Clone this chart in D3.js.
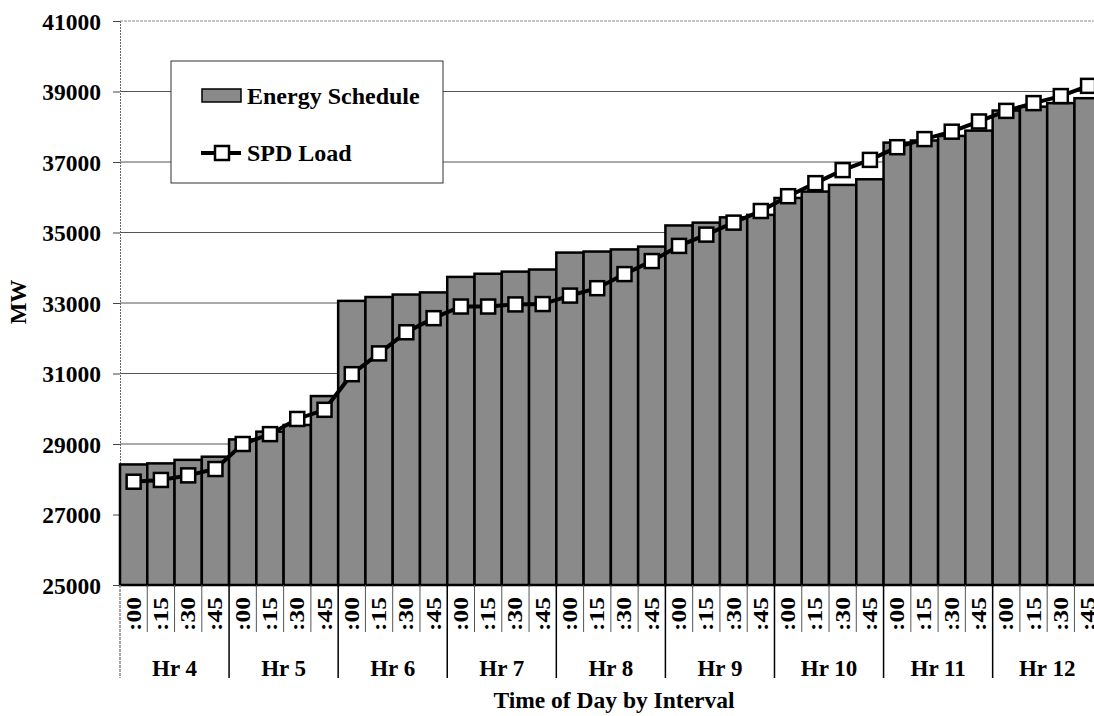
<!DOCTYPE html>
<html>
<head>
<meta charset="utf-8">
<script src="https://cdn.jsdelivr.net/npm/d3@7/dist/d3.min.js"></script>
<style>
    body { margin: 0; background: #fff; }
    text { font-family: "Liberation Serif", "Times New Roman", serif; font-weight: bold; fill: #000; }
</style>
</head>
<body>
<div id="mainContainer"></div>
<script>
'use strict';

var hours = ['Hr 4', 'Hr 5', 'Hr 6', 'Hr 7', 'Hr 8', 'Hr 9', 'Hr 10', 'Hr 11', 'Hr 12'];
var intervals = [':00', ':15', ':30', ':45'];

var energySchedule = [
    28420, 28450, 28550, 28640,
    29130, 29350, 29540, 30360,
    33060, 33170, 33240, 33300,
    33740, 33830, 33890, 33950,
    34430, 34460, 34520, 34600,
    35200, 35280, 35430, 35500,
    35980, 36160, 36350, 36510,
    37550, 37610, 37740, 37890,
    38460, 38570, 38670, 38810
];

var spdLoad = [
    27930, 27980, 28110, 28290,
    29000, 29280, 29710, 29970,
    30980, 31570, 32170, 32570,
    32900, 32900, 32960, 32970,
    33210, 33420, 33820, 34190,
    34620, 34940, 35280, 35610,
    36030, 36400, 36770, 37060,
    37420, 37650, 37860, 38150,
    38450, 38670, 38870, 39160
];

var yTicks = [25000, 27000, 29000, 31000, 33000, 35000, 37000, 39000, 41000];

var svgWidth = 1094,
    svgHeight = 716,
    plotLeft = 120,
    plotTop = 21,
    plotBottom = 585,
    bandWidth = 27.27,
    barFill = '#8a8a8a';

var svg = d3.select('#mainContainer')
    .append('svg')
    .attr('width', svgWidth)
    .attr('height', svgHeight);

// one slot per interval, hour by hour
var slots = [];
hours.forEach(function (h, hi) {
    intervals.forEach(function (m, mi) {
        slots.push({ hour: h, minute: m, i: hi * intervals.length + mi });
    });
});

var x = d3.scaleBand()
    .domain(slots.map(function (d) { return d.i; }))
    .range([plotLeft, plotLeft + bandWidth * slots.length])
    .padding(0);

var y = d3.scaleLinear()
    .domain([25000, 41000])
    .range([plotBottom, plotTop]);

//gridlines
svg.append('g')
    .selectAll('line')
    .data(yTicks.slice(1))
    .enter()
    .append('line')
    .attr('x1', plotLeft)
    .attr('x2', svgWidth)
    .attr('y1', function (d) { return y(d); })
    .attr('y2', function (d) { return y(d); })
    .attr('stroke', function (d) { return d === 41000 ? '#888' : '#555'; })
    .attr('stroke-dasharray', function (d) { return d === 41000 ? '3,1' : null; })
    .attr('stroke-width', 1);

//y axis
var yAxis = svg.append('g')
    .attr('transform', 'translate(' + plotLeft + ',0)')
    .call(d3.axisLeft(y).tickValues(yTicks).tickSize(7).tickPadding(12).tickFormat(d3.format('d')));
yAxis.select('.domain').attr('stroke', '#666').attr('stroke-dasharray', '2,1');
yAxis.selectAll('.tick line').attr('stroke', '#444');
yAxis.selectAll('.tick text')
    .style('font-size', '23.5px')
    .attr('dy', '0.35em');

//bars
svg.append('g')
    .selectAll('rect')
    .data(slots)
    .enter()
    .append('rect')
    .attr('x', function (d) { return x(d.i); })
    .attr('y', function (d) { return y(energySchedule[d.i]); })
    .attr('width', x.bandwidth())
    .attr('height', function (d) { return plotBottom - y(energySchedule[d.i]); })
    .attr('fill', barFill)
    .attr('stroke', '#000')
    .attr('stroke-width', 2.5);

//load line
var line = d3.line()
    .x(function (d) { return x(d.i) + x.bandwidth() / 2; })
    .y(function (d) { return y(spdLoad[d.i]); });

svg.append('path')
    .datum(slots)
    .attr('d', line)
    .attr('fill', 'none')
    .attr('stroke', '#000')
    .attr('stroke-width', 4);

svg.append('g')
    .selectAll('rect')
    .data(slots)
    .enter()
    .append('rect')
    .attr('x', function (d) { return x(d.i) + x.bandwidth() / 2 - 7; })
    .attr('y', function (d) { return y(spdLoad[d.i]) - 7; })
    .attr('width', 14)
    .attr('height', 14)
    .attr('fill', '#fff')
    .attr('stroke', '#000')
    .attr('stroke-width', 2.5);

//category axis
svg.append('line')
    .attr('x1', plotLeft)
    .attr('x2', svgWidth)
    .attr('y1', plotBottom)
    .attr('y2', plotBottom)
    .attr('stroke', '#000')
    .attr('stroke-width', 2);

var cats = svg.append('g');

cats.selectAll('line.minor')
    .data(slots)
    .enter()
    .append('line')
    .attr('class', 'minor')
    .attr('x1', function (d) { return x(d.i); })
    .attr('x2', function (d) { return x(d.i); })
    .attr('y1', plotBottom)
    .attr('y2', function (d) { return d.minute === ':00' ? 678 : 632; })
    .attr('stroke', function (d) { return d.i === 0 ? '#888' : (d.minute === ':00' ? '#000' : '#555'); })
    .attr('stroke-dasharray', function (d) { return d.i === 0 ? '3,1' : null; })
    .attr('stroke-width', function (d) { return d.minute === ':00' ? 1.5 : 1; });

// the last ':45' runs past the right edge, as in the source
cats.selectAll('text.minute')
    .data(slots)
    .enter()
    .append('text')
    .attr('class', 'minute')
    .attr('transform', function (d) {
        return 'translate(' + (x(d.i) + x.bandwidth() / 2 + 7) + ',614) rotate(-90)';
    })
    .attr('text-anchor', 'middle')
    .attr('textLength', 34)
    .attr('lengthAdjust', 'spacingAndGlyphs')
    .style('font-size', '20px')
    .text(function (d) { return d.minute; });

cats.selectAll('text.hour')
    .data(hours)
    .enter()
    .append('text')
    .attr('class', 'hour')
    .attr('x', function (d, i) { return x(i * 4) + x.bandwidth() * 2; })
    .attr('y', 676)
    .attr('text-anchor', 'middle')
    .style('font-size', '23px')
    .text(function (d) { return d; });

//axis titles
svg.append('text')
    .attr('x', 614)
    .attr('y', 708)
    .attr('text-anchor', 'middle')
    .style('font-size', '23.5px')
    .text('Time of Day by Interval');

svg.append('text')
    .attr('transform', 'translate(26,302) rotate(-90)')
    .attr('text-anchor', 'middle')
    .style('font-size', '23px')
    .text('MW');

//legend
var legend = svg.append('g');

legend.append('rect')
    .attr('x', 171)
    .attr('y', 61)
    .attr('width', 272)
    .attr('height', 122)
    .attr('fill', '#fff')
    .attr('stroke', '#333')
    .attr('stroke-width', 1);

legend.append('rect')
    .attr('x', 202)
    .attr('y', 89)
    .attr('width', 39)
    .attr('height', 13)
    .attr('fill', barFill)
    .attr('stroke', '#000')
    .attr('stroke-width', 1.5);

legend.append('text')
    .attr('x', 247)
    .attr('y', 104)
    .style('font-size', '24px')
    .text('Energy Schedule');

legend.append('line')
    .attr('x1', 201)
    .attr('x2', 241)
    .attr('y1', 153)
    .attr('y2', 153)
    .attr('stroke', '#000')
    .attr('stroke-width', 4);

legend.append('rect')
    .attr('x', 215)
    .attr('y', 146)
    .attr('width', 14)
    .attr('height', 14)
    .attr('fill', '#fff')
    .attr('stroke', '#000')
    .attr('stroke-width', 2.5);

legend.append('text')
    .attr('x', 247)
    .attr('y', 161)
    .style('font-size', '24px')
    .text('SPD Load');
</script>
</body>
</html>
